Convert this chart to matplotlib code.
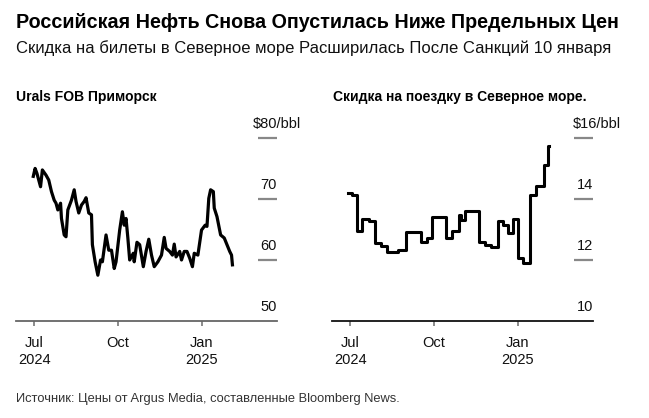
import numpy as np
import pandas as pd
import matplotlib
matplotlib.use("Agg")
import matplotlib.pyplot as plt

plt.rcParams['font.family'] = ['Liberation Sans', 'DejaVu Sans']

# Urals FOB Primorsk, $/bbl
urals_dates = ['2024-06-30', '2024-07-02', '2024-07-04', '2024-07-08', '2024-07-10',
               '2024-07-14', '2024-07-17', '2024-07-20', '2024-07-23', '2024-07-25',
               '2024-07-27', '2024-07-30', '2024-07-31', '2024-08-03', '2024-08-05',
               '2024-08-07', '2024-08-11', '2024-08-14', '2024-08-16', '2024-08-19',
               '2024-08-22', '2024-08-25', '2024-08-27', '2024-08-30', '2024-09-02',
               '2024-09-03', '2024-09-06', '2024-09-09', '2024-09-12', '2024-09-14',
               '2024-09-18', '2024-09-21', '2024-09-24', '2024-09-27', '2024-09-29',
               '2024-10-03', '2024-10-06', '2024-10-08', '2024-10-10', '2024-10-12',
               '2024-10-14', '2024-10-18', '2024-10-19', '2024-10-22', '2024-10-25',
               '2024-10-29', '2024-11-01', '2024-11-04', '2024-11-07', '2024-11-10',
               '2024-11-14', '2024-11-18', '2024-11-21', '2024-11-23', '2024-11-27',
               '2024-11-30', '2024-12-02', '2024-12-04', '2024-12-08', '2024-12-10',
               '2024-12-13', '2024-12-16', '2024-12-19', '2024-12-22', '2024-12-24',
               '2024-12-28', '2025-01-01', '2025-01-05', '2025-01-07', '2025-01-09',
               '2025-01-11', '2025-01-14', '2025-01-15', '2025-01-18', '2025-01-22',
               '2025-01-26', '2025-01-29', '2025-02-01', '2025-02-03', '2025-02-04']
urals_values = [73.7, 75.0, 74.2, 72.0, 74.75,
                73.9, 73.1, 71.2, 69.8, 69.3,
                68.2, 69.3, 66.8, 64.1, 63.8,
                68.2, 69.8, 71.5, 69.6, 67.7,
                69.0, 69.6, 70.2, 67.7, 67.4,
                62.5, 59.7, 57.5, 60.0, 59.7,
                64.1, 61.6, 61.6, 58.6, 59.7,
                64.9, 67.9, 65.7, 66.8, 63.6,
                60.0, 61.1, 59.7, 62.9, 62.5,
                58.9, 61.4, 63.4, 60.8, 58.9,
                59.7, 60.8, 63.7, 61.9, 61.4,
                60.8, 62.6, 60.5, 61.4, 60.0,
                61.4, 61.4, 60.3, 58.9, 61.1,
                60.8, 64.9, 65.7, 65.5, 70.1,
                71.5, 71.2, 68.5, 67.1, 64.1,
                63.6, 62.5, 61.4, 60.8, 59.2]

# North Sea trip discount, $/bbl (step series)
disc_dates = ['2024-06-29', '2024-07-03', '2024-07-08', '2024-07-14', '2024-07-22',
              '2024-07-28', '2024-08-04', '2024-08-11', '2024-08-23', '2024-08-31',
              '2024-09-17', '2024-09-23', '2024-09-29', '2024-10-14', '2024-10-21',
              '2024-10-29', '2024-10-31', '2024-11-04', '2024-11-20', '2024-11-26',
              '2024-12-03', '2024-12-10', '2024-12-16', '2024-12-22', '2024-12-27',
              '2025-01-02', '2025-01-07', '2025-01-15', '2025-01-21', '2025-01-30',
              '2025-02-04', '2025-02-05']
disc_values = [14.19, 14.13, 12.96, 13.33, 13.29,
               12.55, 12.47, 12.25, 12.33, 12.93,
               12.60, 12.71, 13.40, 12.71, 12.95,
               13.48, 13.31, 13.62, 12.60, 12.49,
               12.42, 13.28, 13.15, 12.88, 13.34,
               12.06, 11.89, 14.13, 14.44, 15.11,
               15.72, 15.72]

xtick_dates = ['2024-07-01', '2024-10-01', '2025-01-01']
xtick_labels = ['Jul\n2024', 'Oct', 'Jan\n2025']
urals_ticks = [50, 60, 70, 80]
disc_ticks = [10, 12, 14, 16]

title = 'Российская Нефть Снова Опустилась Ниже Предельных Цен'
subtitle = 'Скидка на билеты в Северное море Расширилась После Санкций 10 января'
left_title = 'Urals FOB Приморск'
right_title = 'Скидка на поездку в Северное море.'
source = 'Источник: Цены от Argus Media, составленные Bloomberg News.'

W, H = 649, 418
fig = plt.figure(figsize=(W / 100, H / 100), dpi=100)


def px(x, y):
    return x / W, 1 - y / H


def draw_panel(left_px, dates, values, ticks, ylim, unit_x, spine_color, step=False):
    ax = fig.add_axes([left_px / W, (H - 321) / H, 261 / W, 207.5 / H])
    d = pd.to_datetime(dates)
    if step:
        ax.plot(d, values, color='black', lw=2.2, drawstyle='steps-post')
    else:
        ax.plot(d, values, color='black', lw=2.3, solid_joinstyle='round')
    ax.set_xlim(pd.Timestamp('2024-06-11'), pd.Timestamp('2025-03-25'))
    ax.set_ylim(*ylim)
    for s in ['top', 'left', 'right']:
        ax.spines[s].set_visible(False)
    ax.spines['bottom'].set_color(spine_color)
    ax.spines['bottom'].set_linewidth(1.3)
    ax.set_yticks([])
    ax.set_xticks(pd.to_datetime(xtick_dates))
    ax.set_xticklabels(xtick_labels, fontsize=10.5, color='#111111', linespacing=1.3)
    ax.tick_params(axis='x', length=3.5, width=1.2, color='#777777', pad=7)
    # value labels sit above short grey marks on the right
    ytr = ax.get_yaxis_transform()
    ax.hlines(ticks[1:], 0.928, 1.0, transform=ytr, color='#888888', lw=1.6)
    for t in ticks[:-1]:
        ax.annotate(str(t), xy=(1.0, t), xycoords=ytr, xytext=(0, 10),
                    textcoords='offset points', ha='right', va='center',
                    fontsize=10.5, color='#111111')
    ax.annotate('$%d/bbl' % ticks[-1], xy=(unit_x, ticks[-1]), xycoords=ytr,
                xytext=(0, 10), textcoords='offset points', ha='left', va='center',
                fontsize=10.5, color='#111111', annotation_clip=False)
    return ax


draw_panel(16, urals_dates, urals_values, urals_ticks, (50, 84), 0.906, '#666666')
draw_panel(332, disc_dates, disc_values, disc_ticks, (10, 16.8), 0.922, '#111111', step=True)

fig.text(*px(16, 22), title, fontsize=14.2, fontweight='bold', va='center', ha='left')
fig.text(*px(16, 48), subtitle, fontsize=12, va='center', ha='left', color='#111111')
fig.text(*px(16, 97), left_title, fontsize=10, fontweight='bold', va='center', ha='left')
fig.text(*px(333, 97), right_title, fontsize=10, fontweight='bold', va='center', ha='left')
fig.text(*px(16, 399), source, fontsize=9.3, va='center', ha='left', color='#333333')

fig.savefig('out.png', dpi=100)
